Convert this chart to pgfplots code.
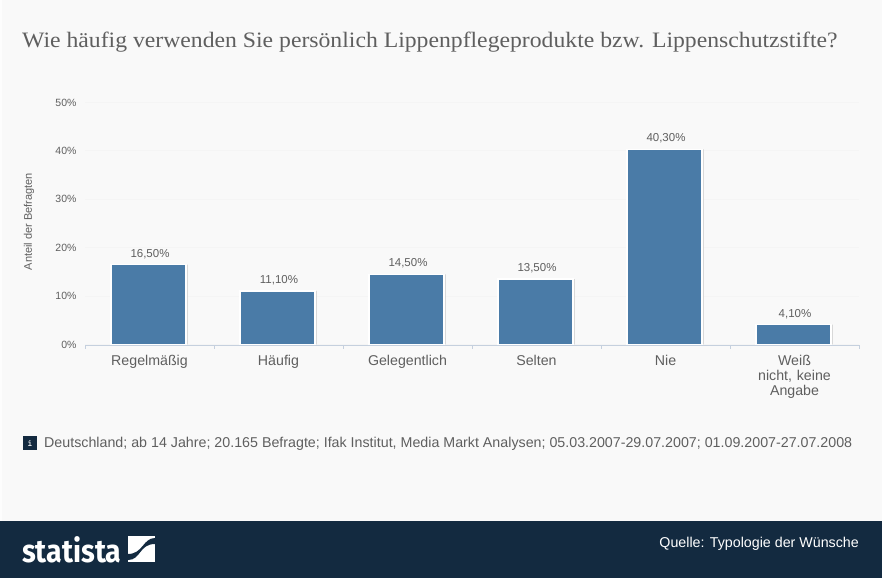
\documentclass[border=0pt]{standalone}
\usepackage{pgfplots}
\pgfplotsset{compat=1.18}
\usepackage{fontspec}
\setmainfont{Liberation Sans}
\newfontfamily\titlefont{Liberation Serif}
\newfontfamily\logofont{Fira Sans}
\definecolor{bgc}{HTML}{F9F9F9}
\definecolor{barc}{HTML}{4A7BA7}
\definecolor{foot}{HTML}{132A40}
\definecolor{txt}{HTML}{5F5F5F}
\definecolor{axc}{HTML}{C5D0DE}
\pgfplotstableread{
x y lab
0 16.5 {16,50\%}
1 11.1 {11,10\%}
2 14.5 {14,50\%}
3 13.5 {13,50\%}
4 40.3 {40,30\%}
5 4.1 {4,10\%}
}\datatab
\begin{document}
\begin{tikzpicture}[x=1pt,y=1pt]
\path[use as bounding box] (0,0) rectangle (882,578);
\fill[bgc] (0,0) rectangle (882,578);
\fill[white!60!bgc] (0,57) rectangle (2,578);
\fill[foot] (0,0) rectangle (882,57);
\node[anchor=west,text=txt,inner sep=0pt] at (22,535.5) {\titlefont\fontsize{22}{24}\selectfont\scalebox{1.077}[1]{Wie häufig verwenden Sie persönlich Lippenpflegeprodukte bzw. Lippenschutzstifte?}};
\begin{axis}[
  at={(85pt,233.5pt)},anchor=south west,
  width=774pt,height=242pt,scale only axis,
  xmin=-0.5,xmax=5.5,ymin=0,ymax=50,
  axis x line*=bottom,axis y line*=left,
  axis line style={draw=none},
  xtick={0,...,5},
  xticklabels={Regelmäßig,Häufig,Gelegentlich,Selten,Nie,{Weiß\\nicht, keine\\Angabe}},
  x tick label style={align=center,text=txt,font=\fontsize{14.2}{15}\selectfont,text width=100pt,yshift=-3pt,anchor=north},
  major x tick style={draw=none},
  ytick={0,10,...,50},
  yticklabel={\pgfmathprintnumber{\tick}\%},
  /pgf/number format/assume math mode=true,
  y tick label style={text=txt,font=\fontsize{10.5}{12}\selectfont,xshift=-5pt},
  major y tick style={draw=none},
  ymajorgrids,
  grid style={draw=black!4,line width=0.8pt},
  ylabel={Anteil der Befragten},
  ylabel style={text=txt,font=\fontsize{11}{12}\selectfont},
  every axis y label/.append style={at={(axis description cs:0,0.5)},anchor=center,yshift=56pt,xshift=2pt},
  ybar,bar width=75pt,
  clip=false,
]
\addplot[ybar,bar shift=0.5pt,draw=none,fill=black!22] table[x=x,y=y]{\datatab};
\addplot[ybar,bar shift=-1pt,draw=white,line width=1.5pt,fill=barc,
  nodes near coords,point meta=explicit symbolic,
  nodes near coords style={text=txt,font=\fontsize{11.5}{12}\selectfont,anchor=south,yshift=2pt,xshift=1.5pt}]
  table[x=x,y=y,meta=lab]{\datatab};
\draw[axc,line width=0.9pt] (axis cs:-0.5,-0.12) -- (axis cs:5.5,-0.12);
\pgfplotsinvokeforeach{-0.5,0.5,1.5,2.5,3.5,4.5,5.5}{
  \draw[axc,line width=0.7pt] (axis cs:#1,-0.12) -- (axis cs:#1,-1);
}
\end{axis}
\fill[foot] (23,128) rectangle (37,142);
\node[white,font=\ttfamily\bfseries\fontsize{10}{10}\selectfont] at (30,135) {i};
\node[anchor=west,text=txt,inner sep=0pt,font=\fontsize{14.25}{15}\selectfont] at (44,134.5) {Deutschland; ab 14 Jahre; 20.165 Befragte; Ifak Institut, Media Markt Analysen; 05.03.2007-29.07.2007; 01.09.2007-27.07.2008};
\node[anchor=east,white,inner sep=0pt,font=\fontsize{14.25}{15}\selectfont] at (859,34.5) {Quelle: Typologie der Wünsche};
\node[anchor=base west,white,inner sep=0pt] at (22,16) {\logofont\bfseries\fontsize{32}{33}\selectfont\scalebox{0.89}[1]{statista}};
\fill[white] (128,16) rectangle (155,42);
\fill[foot] (128,18) .. controls (141,18) and (139,34) .. (155,34) -- (155,40) .. controls (143,40) and (143,24) .. (128,24) -- cycle;
\end{tikzpicture}
\end{document}
